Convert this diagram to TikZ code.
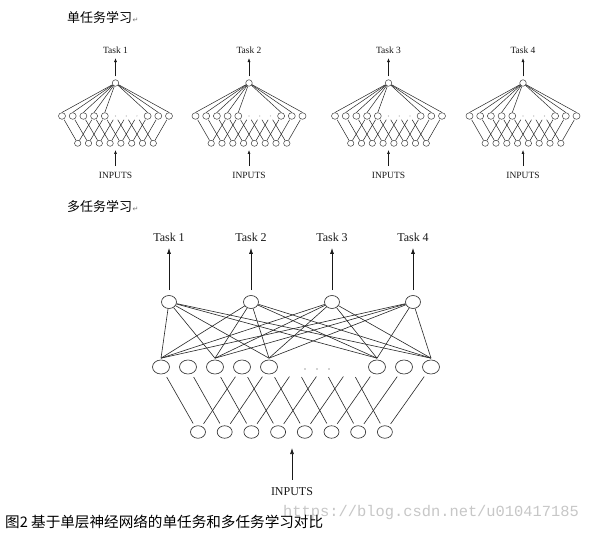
\documentclass[tikz,border=0pt]{standalone}
\usepackage{fontspec}
\setmainfont{Liberation Serif}
\newfontfamily\cjkfont{Noto Sans CJK SC}
\newfontfamily\dvfont{DejaVu Sans}
\newfontfamily\wmfont{Liberation Mono}
\usetikzlibrary{shapes.geometric,arrows.meta,calc}
\tikzset{
  sn/.style={ellipse,draw=black!75,line width=0.5pt,inner sep=0pt,minimum width=7pt,minimum height=6.6pt},
  sg/.style={ellipse,inner sep=0pt,minimum width=7pt,minimum height=6.6pt},
  so/.style={ellipse,draw=black!75,line width=0.5pt,inner sep=0pt,minimum width=6.5pt,minimum height=6.5pt},
  si/.style={ellipse,draw=black!75,line width=0.5pt,inner sep=0pt,minimum width=6.4pt,minimum height=6pt},
  bt/.style={ellipse,draw=black!80,line width=0.65pt,inner sep=0pt,minimum width=15pt,minimum height=13pt},
  bn/.style={ellipse,draw=black!80,line width=0.65pt,inner sep=0pt,minimum width=17pt,minimum height=14pt},
  bg/.style={ellipse,inner sep=0pt,minimum width=17pt,minimum height=14pt},
  bi/.style={ellipse,draw=black!80,line width=0.65pt,inner sep=0pt,minimum width=15pt,minimum height=12.5pt},
  slink/.style={draw=black!85,line width=0.5pt},
  blink/.style={draw=black!85,line width=0.6pt},
  sarr/.style={-{Latex[length=4pt,width=3pt]},draw=black!90,line width=0.55pt},
  barr/.style={-{Latex[length=6pt,width=4pt]},draw=black!90,line width=0.7pt},
  slabel/.style={inner sep=0pt,font=\fontsize{9.5}{9.5}\selectfont,text=black!90},
  blabel/.style={inner sep=0pt,font=\fontsize{12}{12}\selectfont,text=black!90},
  faint/.style={circle,fill=black!35,inner sep=0pt,minimum size=1.2pt},
  header/.style={anchor=west,inner sep=0pt,font=\cjkfont\fontsize{13}{13}\selectfont},
  retmark/.style={anchor=base west,inner sep=0pt,text=black!55,font=\dvfont\fontsize{7}{7}\selectfont}
}
\newcommand\SmallNetwork[3]{%
  \node[slabel] (#1L) at (#2,50) {Task #3};
  \node[so] (#1o) at (#2,83) {};
  \foreach \k/\st in {1/sn,2/sn,3/sn,4/sn,5/sn,6/sg,7/sg,8/sg,9/sn,10/sn,11/sn}
    \node[\st] (#1h\k) at ({#2-53.5+10.7*(\k-1)},116) {};
  \foreach \k in {1,...,8}
    \node[si] (#1i\k) at ({#2-37.8+10.8*(\k-1)},143.3) {};
  \foreach \k in {6,7,8}
    \node[faint] (#1d\k) at (#1h\k) {};
  \foreach \k in {1,2,3,4,5,9,10,11}
    \draw[slink] (#1o) -- (#1h\k.north);
  \foreach \k in {1,...,8}{
    \pgfmathtruncatemacro\j{\k+3}
    \draw[slink,shorten <=0.8pt] (#1h\k) -- (#1i\k);
    \draw[slink,shorten <=0.8pt] (#1h\j) -- (#1i\k);
  }
  \draw[sarr,shorten <=3pt,shorten >=4.5pt] (#1o) -- (#1L);
  \node[slabel] (#1IN) at (#2,175) {INPUTS};
  \coordinate (#1ia) at (#2,150);
  \draw[sarr,shorten <=5.5pt] (#1IN.north) -- (#1ia);
}
\begin{document}
\begin{tikzpicture}[x=1pt,y=-1pt]
\fill[white] (0,0) rectangle (589,534);
\useasboundingbox (0,0) rectangle (589,534);

% headers
\node[header] (hd1) at (67,18) {单任务学习};
\node[retmark] (rt1) at (hd1.base east) {↵};
\node[header] (hd2) at (67,207) {多任务学习};
\node[retmark] (rt2) at (hd2.base east) {↵};

% single-task networks
\SmallNetwork{a}{115.5}{1}
\SmallNetwork{b}{249}{2}
\SmallNetwork{c}{388.5}{3}
\SmallNetwork{d}{523}{4}

% multi-task network
\foreach \t/\x in {1/169,2/251,3/332,4/413}{
  \node[blabel] (L\t) at (\x,237) {Task \t};
  \node[bt] (T\t) at (\x,302) {};
  \draw[barr,shorten <=5pt,shorten >=6.5pt] (T\t) -- (L\t);
}
\foreach \k/\st in {1/bn,2/bn,3/bn,4/bn,5/bn,6/bg,7/bg,8/bg,9/bn,10/bn,11/bn}
  \node[\st] (H\k) at ({161+27*(\k-1)},367) {};
\foreach \k in {1,...,8}
  \node[bi] (I\k) at ({198+26.7*(\k-1)},432) {};
\foreach \x/\n in {305/1,317/2,329/3}
  \node[faint,minimum size=1.6pt] (dot\n) at (\x,369) {};
\foreach \t in {1,2,3,4}
  \foreach \k in {1,3,5,9,11}
    \draw[blink] (T\t) -- ([yshift=1.5pt]H\k.north);
\foreach \k in {1,...,8}{
  \pgfmathtruncatemacro\j{\k+3}
  \draw[blink,shorten <=4pt,shorten >=3pt] (H\k) -- (I\k);
  \draw[blink,shorten <=4pt,shorten >=3pt] (H\j) -- (I\k);
}
\node[blabel] (BIN) at (292,492) {INPUTS};
\coordinate (bia) at (292,448);
\draw[barr,shorten <=8pt] (BIN.north) -- (bia);

% watermark and caption
\node[anchor=west,inner sep=0pt,text=black!22,font=\wmfont\fontsize{15.4}{15.4}\selectfont] (wm) at (283,513) {https://blog.csdn.net/u010417185};
\node[anchor=west,inner sep=0pt,font=\cjkfont\fontsize{14.6}{14.6}\selectfont] (cap) at (5,522) {图2 基于单层神经网络的单任务和多任务学习对比};
\end{tikzpicture}
\end{document}
